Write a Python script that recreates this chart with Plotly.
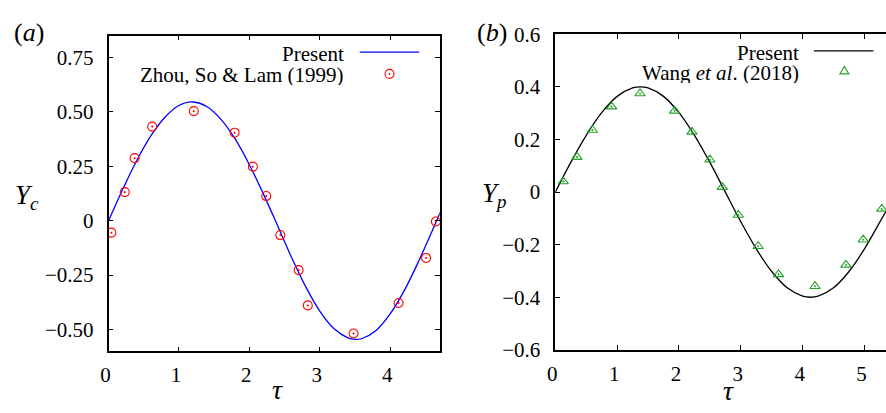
import plotly.graph_objects as go

# ---------------- data ----------------
# (a) transverse displacement of the cylinder, present simulation
tau_a = [0, 0.2, 0.4, 0.6, 0.8, 1.0, 1.2, 1.4, 1.6, 1.8, 2.0, 2.2, 2.4, 2.6, 2.8,
         3.0, 3.2, 3.4, 3.5, 3.6, 3.8, 4.0, 4.2, 4.4, 4.6, 4.71]
yc_present = [0, 0.143, 0.276, 0.389, 0.475, 0.529, 0.545, 0.523, 0.464, 0.374,
              0.257, 0.122, -0.022, -0.169, -0.303, -0.415, -0.495, -0.538,
              -0.545, -0.541, -0.504, -0.428, -0.321, -0.190, -0.045, 0.037]

# (a) reference data, Zhou, So & Lam (1999)
tau_zhou = [0.04, 0.23, 0.37, 0.62, 1.21, 1.79, 2.05, 2.24, 2.44, 2.70, 2.83,
            3.48, 4.12, 4.51, 4.65]
yc_zhou = [-0.055, 0.131, 0.287, 0.432, 0.503, 0.404, 0.248, 0.113, -0.066,
           -0.227, -0.389, -0.518, -0.378, -0.171, -0.004]

# (b) transverse displacement, present simulation
tau_b = [0, 0.25, 0.5, 0.75, 1.0, 1.25, 1.375, 1.5, 1.75, 2.0, 2.25, 2.5, 2.75,
         3.0, 3.25, 3.5, 3.75, 4.0, 4.125, 4.25, 4.5, 4.75, 5.0, 5.25, 5.35]
yp_present = [0, 0.113, 0.216, 0.302, 0.364, 0.396, 0.400, 0.396, 0.364, 0.302,
              0.216, 0.113, 0, -0.113, -0.216, -0.302, -0.364, -0.396, -0.400,
              -0.396, -0.364, -0.302, -0.216, -0.113, -0.072]

# (b) reference data, Wang et al. (2018)
tau_wang = [0.13, 0.35, 0.60, 0.91, 1.37, 1.93, 2.21, 2.50, 2.70, 2.96, 3.28,
            3.61, 4.20, 4.70, 4.98, 5.28]
yp_wang = [0.040, 0.133, 0.236, 0.325, 0.375, 0.309, 0.229, 0.123, 0.019,
           -0.087, -0.206, -0.313, -0.358, -0.277, -0.181, -0.064]

# tick labels
a_xticks = [0, 1, 2, 3, 4]
a_yticks = [0.75, 0.5, 0.25, 0, -0.25, -0.5]
a_yticktext = ["0.75", "0.50", "0.25", "0", "\u22120.25", "\u22120.50"]
b_xticks = [0, 1, 2, 3, 4, 5]
b_yticks = [0.6, 0.4, 0.2, 0, -0.2, -0.4, -0.6]
b_yticktext = ["0.6", "0.4", "0.2", "0", "\u22120.2", "\u22120.4", "\u22120.6"]

# ---------------- styling ----------------
W, H = 886, 413
FONT = "Liberation Serif"
RED = "rgb(255,0,0)"
GREEN = "rgb(34,160,42)"
BLUE = "rgb(0,0,255)"


def px(x):
    return x / W


def py(y):
    return 1 - y / H


fig = go.Figure()

fig.add_trace(go.Scatter(x=tau_a, y=yc_present, mode="lines",
                         line=dict(color=BLUE, width=1.3, shape="spline"),
                         xaxis="x", yaxis="y", showlegend=False))
fig.add_trace(go.Scatter(x=tau_zhou, y=yc_zhou, mode="markers",
                         marker=dict(symbol="circle-open-dot", size=9, color=RED,
                                     line=dict(width=1.1, color=RED)),
                         xaxis="x", yaxis="y", showlegend=False))
fig.add_trace(go.Scatter(x=tau_b, y=yp_present, mode="lines",
                         line=dict(color="black", width=1.3, shape="spline"),
                         xaxis="x2", yaxis="y2", showlegend=False))
fig.add_trace(go.Scatter(x=tau_wang, y=yp_wang, mode="markers",
                         marker=dict(symbol="triangle-up-open-dot", size=9, color=GREEN,
                                     line=dict(width=1.1, color=GREEN)),
                         xaxis="x2", yaxis="y2", showlegend=False))

axis_common = dict(showline=True, linecolor="black", linewidth=1.6,
                   ticks="inside", ticklen=5, tickwidth=1.3, tickcolor="black",
                   showgrid=False, zeroline=False,
                   tickfont=dict(family=FONT, size=21, color="black"))

fig.update_layout(
    width=W, height=H,
    margin=dict(l=0, r=0, t=0, b=0),
    paper_bgcolor="white", plot_bgcolor="white",
    showlegend=False,
    xaxis=dict(**axis_common, domain=[px(101.5), px(435.7)], range=[0, 4.705],
               tickvals=a_xticks, mirror="ticks", anchor="y",
               ticklabelstandoff=4, ticklabelshift=-3),
    yaxis=dict(**axis_common, domain=[py(360.3), py(25)], range=[-0.6, 0.85],
               tickvals=a_yticks, ticktext=a_yticktext, mirror="ticks", anchor="x",
               ticklabelstandoff=9),
    xaxis2=dict(**axis_common, domain=[px(552.3), 1.0], range=[0, 5.348],
                tickvals=b_xticks, mirror="ticks", anchor="y2",
                ticklabelstandoff=4, ticklabelshift=-3),
    yaxis2=dict(**axis_common, domain=[py(358.7), py(23.7)], range=[-0.6, 0.6],
                tickvals=b_yticks, ticktext=b_yticktext, mirror=False, anchor="x2",
                ticklabelstandoff=9),
)

annots = []


def note(text, x, y, size=21, xanchor="center", yanchor="middle", height=None):
    a = dict(text=text, x=px(x), y=py(y), xref="paper", yref="paper",
             xanchor=xanchor, yanchor=yanchor, showarrow=False,
             font=dict(family=FONT, size=size, color="black"))
    if height is not None:
        a["height"] = height
    annots.append(a)


# panel labels
note("(<i>a</i>)", 21.5, 22, size=26)
note("(<i>b</i>)", 488, 22, size=26)
# axis titles
note("<i>\u03c4</i>", 271.5, 401, size=28)
note("<i>\u03c4</i>", 726.7, 402, size=28)
note("<i>Y</i><sub><i>c</i></sub>", 19, 196, size=27)
note("<i>Y</i><sub><i>p</i></sub>", 490, 194, size=27)
# key texts
note("Present", 341, 44.5, xanchor="right", height=20)
note("Zhou, So &amp; Lam (1999)", 341, 67, xanchor="right", height=20)
note("Present", 800, 43, xanchor="right", height=20)
note("Wang <i>et al</i>. (2018)", 800, 64.5, xanchor="right", height=20)

fig.update_layout(annotations=annots)

# key samples
shapes = [
    dict(type="line", xref="paper", yref="paper", x0=px(355), x1=px(415),
         y0=py(42.7), y1=py(42.7), line=dict(color=BLUE, width=1.3)),
    dict(type="circle", xref="paper", yref="paper", xsizemode="pixel", ysizemode="pixel",
         xanchor=px(385), yanchor=py(65.7), x0=-4.5, x1=4.5, y0=-4.5, y1=4.5,
         line=dict(color=RED, width=1.1)),
    dict(type="circle", xref="paper", yref="paper", xsizemode="pixel", ysizemode="pixel",
         xanchor=px(385), yanchor=py(65.7), x0=-0.6, x1=0.6, y0=-0.6, y1=0.6,
         line=dict(color=RED, width=0.8), fillcolor=RED),
    dict(type="line", xref="paper", yref="paper", x0=px(813.3), x1=px(873.3),
         y0=py(41.3), y1=py(41.3), line=dict(color="black", width=1.3)),
    dict(type="path", xref="paper", yref="paper", xsizemode="pixel", ysizemode="pixel",
         xanchor=px(844), yanchor=py(62.3), path="M -4.5,-3.2 L 4.5,-3.2 L 0,4.3 Z",
         line=dict(color=GREEN, width=1.1)),
]
fig.update_layout(shapes=shapes)

fig.write_html("out.html")
